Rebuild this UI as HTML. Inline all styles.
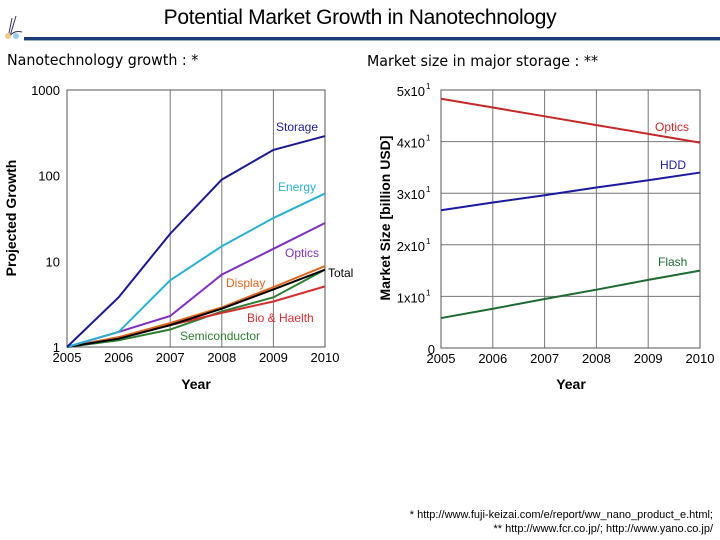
<!DOCTYPE html>
<html><head><meta charset="utf-8"><style>
body{margin:0;width:720px;height:540px;background:#fff;overflow:hidden;font-family:"Liberation Sans",sans-serif;position:relative}
.t{position:absolute;white-space:nowrap}
</style></head><body>
<div class="t" style="left:0;width:720px;text-align:center;top:6px;font-size:21px;letter-spacing:-0.3px">Potential Market Growth in Nanotechnology</div>
<div style="position:absolute;left:2px;top:14px;width:24px;height:26px">
<svg width="24" height="26"><path d="M10 4 L6 24 M14 2 L8 22 Q12 16 20 18" stroke="#335" fill="none" stroke-width="1"/><circle cx="6" cy="22" r="3" fill="#ec8"/><circle cx="14" cy="22" r="3" fill="#9ce"/></svg></div>
<div style="position:absolute;left:24px;top:37px;width:696px;height:3px;background:#1b3c7a;border-bottom:1px solid #9ab"></div>
<div class="t" style="left:7px;top:51px;font-size:15px;font-family:'DejaVu Sans',sans-serif;transform:scaleX(0.95);transform-origin:left">Nanotechnology growth : *</div>
<div class="t" style="left:367px;top:52px;font-size:15px;font-family:'DejaVu Sans',sans-serif;transform:scaleX(0.95);transform-origin:left">Market size in major storage : **</div>
<div class="t" style="right:7px;top:509px;font-size:11px">* http://www.fuji-keizai.com/e/report/ww_nano_product_e.html;</div>
<div class="t" style="right:7px;top:523px;font-size:11px">** http://www.fcr.co.jp/; http://www.yano.co.jp/</div>
<svg id="c" width="720" height="540" style="position:absolute;left:0;top:0"></svg>
<script>
const years=[2005,2006,2007,2008,2009,2010];
const storage=[1,3.8,21,90,200,290];
const energy=[1,1.5,6,15,32,62];
const optics=[1,1.5,2.3,7,14,28];
const display=[1,1.3,1.9,2.9,5,8.8];
const total=[1,1.25,1.8,2.8,4.7,8];
const bio=[1,1.3,1.8,2.5,3.4,5.1];
const semi=[1,1.2,1.6,2.6,3.8,8];
const logTicks=[1,10,100,1000];
const mOptics=[48.3,46.6,44.9,43.2,41.5,39.8];
const mHDD=[26.7,28.2,29.6,31.1,32.5,34];
const mFlash=[5.8,7.6,9.5,11.3,13.2,15];
const linTicks=[0,10,20,30,40,50];
const linLabels=['0','1x10','2x10','3x10','4x10','5x10'];
const NS='http://www.w3.org/2000/svg',svg=document.getElementById('c');
function mk(t,a,txt){const e=document.createElementNS(NS,t);for(const k in a)e.setAttribute(k,a[k]);if(txt!==undefined)e.textContent=txt;svg.appendChild(e);return e;}
// left
const lx=y=>67+(y-2005)*(325-67)/5, ly=v=>347-Math.log10(v)*(347-90)/3;
for(const y of [2007,2008,2009]){const e=mk('line',{x1:lx(y),x2:lx(y),y1:90,y2:347,stroke:'#777','stroke-width':1});
}
let e=mk('rect',{x:67,y:90,width:258,height:257,fill:'none',stroke:'#555','stroke-width':1});

logTicks.forEach(v=>{const t=mk('text',{x:60,y:ly(v)+5,'text-anchor':'end','font-size':13},String(v));
});
years.forEach(y=>{const t=mk('text',{x:lx(y),y:362,'text-anchor':'middle','font-size':13},String(y));
});
e=mk('text',{x:196,y:389,'text-anchor':'middle','font-size':14,'font-weight':'bold'},'Year');

e=mk('text',{x:0,y:0,'text-anchor':'middle','font-size':14,'font-weight':'bold',transform:'translate(16,218) rotate(-90)'},'Projected Growth');

function lline(d,c,n){const p=d.map((v,i)=>lx(years[i])+','+ly(v)).join(' ');const l=mk('polyline',{points:p,fill:'none',stroke:c,'stroke-width':2});
}
lline(semi,'#2e7d32','line-semiconductor');lline(bio,'#d32f2f','line-bio-health');lline(display,'#e0651f','line-display');
lline(total,'#000','line-total');lline(optics,'#8030c0','line-optics');lline(energy,'#2ab0d0','line-energy');lline(storage,'#1a1a90','line-storage');
[['Storage',276,131,'#1a1a90','label-storage'],['Energy',278,191,'#2ab0d0','label-energy'],['Optics',285,257,'#8030c0','label-optics'],
['Display',226,287,'#e0651f','label-display'],['Total',328,277,'#000','label-total'],['Bio & Haelth',247,322,'#d32f2f','label-bio-health'],
['Semiconductor',180,340,'#2e7d32','label-semiconductor']].forEach(a=>{const t=mk('text',{x:a[1],y:a[2],'font-size':12,fill:a[3]},a[0]);
});
// right
const rx=y=>441+(y-2005)*(700-441)/5, ry=v=>348-v*(348-90)/50;
years.forEach(y=>{const g=mk('line',{x1:rx(y),x2:rx(y),y1:90,y2:348,stroke:'#777','stroke-width':1});
});
linTicks.forEach((v,i)=>{const g=mk('line',{x1:441,x2:700,y1:ry(v),y2:ry(v),stroke:'#777','stroke-width':1});

const t=mk('text',{x:i?425:435,y:ry(v)+6,'text-anchor':'end','font-size':13},linLabels[i]);

if(i){const s=mk('text',{x:426,y:ry(v)-1,'font-size':8},'1');}});
e=mk('rect',{x:441,y:90,width:259,height:258,fill:'none',stroke:'#555','stroke-width':1});

years.forEach(y=>{const t=mk('text',{x:rx(y),y:363,'text-anchor':'middle','font-size':13},String(y));
});
e=mk('text',{x:571,y:389,'text-anchor':'middle','font-size':14,'font-weight':'bold'},'Year');

e=mk('text',{x:0,y:0,'text-anchor':'middle','font-size':14,'font-weight':'bold',transform:'translate(390,218) rotate(-90)'},'Market Size [billion USD]');

function rline(d,c,n){const p=d.map((v,i)=>rx(years[i])+','+ry(v)).join(' ');const l=mk('polyline',{points:p,fill:'none',stroke:c,'stroke-width':2});
}
rline(mOptics,'#c62828','line-optics-market');rline(mHDD,'#1a1aa0','line-hdd');rline(mFlash,'#1e6b30','line-flash');
[['Optics',655,131,'#c62828','label-optics-market'],['HDD',660,169,'#1a1aa0','label-hdd'],['Flash',658,266,'#1e6b30','label-flash']].forEach(a=>{
const t=mk('text',{x:a[1],y:a[2],'font-size':12,fill:a[3]},a[0]);});
</script>
</body></html>
